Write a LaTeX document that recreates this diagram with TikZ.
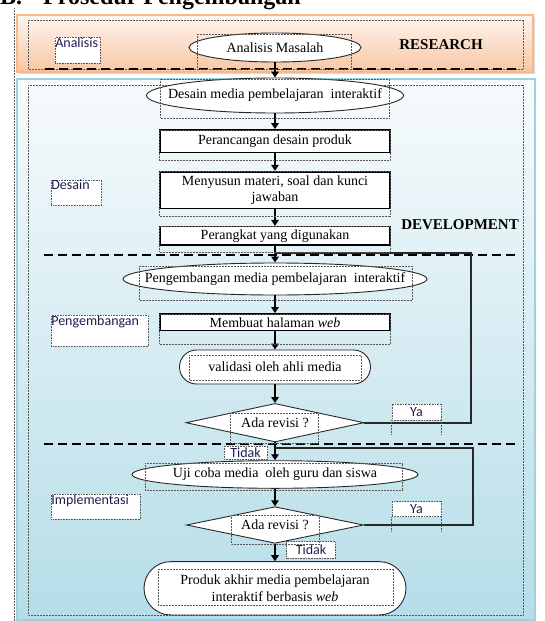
\documentclass[tikz,border=0pt]{standalone}
\usepackage{fontspec}
\setmainfont{Liberation Serif}
\newfontfamily\lblfont{Carlito}
\usetikzlibrary{shapes.geometric,shapes.misc,arrows.meta,shadows}
\definecolor{orBorder}{RGB}{248,184,138}
\definecolor{orTop}{RGB}{253,245,239}
\definecolor{orBot}{RGB}{248,198,162}
\definecolor{blBorder}{RGB}{160,208,222}
\definecolor{blTop}{RGB}{247,251,252}
\definecolor{blBot}{RGB}{181,221,232}
\definecolor{lblcol}{RGB}{30,30,80}
\definecolor{edge}{RGB}{40,40,40}
\newcommand\zw[1]{\makebox[0pt]{#1}}
\begin{document}
\begin{tikzpicture}[x=1pt,y=-1pt,
 every node/.style={font=\fontsize{14}{16.5}\selectfont},
 oval/.style={ellipse, draw=edge, line width=0.9pt, fill=white, inner sep=0pt},
 stadium/.style={rounded rectangle, draw=edge, line width=0.9pt, fill=white, inner sep=0pt, align=center},
 stepbox/.style={rectangle, draw=black, line width=1.6pt, fill=white, inner sep=0pt, minimum width=230.5pt, align=center},
 decide/.style={diamond, aspect=4.6, draw=edge, line width=0.9pt, fill=white, inner sep=0pt},
 frame/.style={draw=black!65, densely dotted, line width=0.5pt},
 lblbox/.style={draw=black!65, densely dotted, line width=0.6pt, fill=white, inner sep=0pt, font=\lblfont\fontsize{14}{16}\selectfont, text=lblcol},
 flow/.style={line width=2.2pt, -{Triangle[length=6pt,width=7.5pt]}},
 back/.style={line width=1.8pt, draw=edge},
 sep/.style={line width=1.8pt, dash pattern=on 9pt off 5pt},
 tag/.style={font=\fontsize{15}{17}\selectfont\bfseries}
]
\useasboundingbox (0,0) rectangle (545,621);

% title (partly cut off at the top)
\node[anchor=base west, inner sep=0pt, font=\fontsize{24}{28}\selectfont\bfseries] (title) at (0,5) {B.\hspace{21pt}Prosedur Pengembangan};

% left margin marker
\draw[frame] (14,8) -- (14,621);

% bands
\path[draw=orBorder, line width=1.2pt, top color=orTop, bottom color=orBot,
  drop shadow={shadow xshift=2pt, shadow yshift=-2pt, opacity=0.3}] (17,15) rectangle (533,72);
\path[draw=blBorder, line width=1.5pt, top color=blTop, bottom color=blBot] (17,79) rectangle (535,620);
\draw[frame] (28,20) rectangle (523,69);
\draw[frame] (28,85) rectangle (523,615);

% separators
\draw[sep] (45,69) -- (518,69);
\draw[sep] (43.5,255) -- (516,255);
\draw[sep] (43.5,444) -- (516,444);

% research
\node[oval, minimum width=172pt, minimum height=29pt] (am) at (275,47.5) {\zw{Analisis Masalah}};
\node[tag] (research) at (441,45) {RESEARCH};
\node[lblbox, anchor=north west] (lanalisis) at (55,37) {\parbox[c][26pt][t]{45pt}{Analisis}};

% desain
\node[oval, minimum width=257pt, minimum height=35pt] (e1) at (275,95.5) {\zw{Desain media pembelajaran\ \ interaktif}};
\node[stepbox, minimum height=22.7pt] (b1) at (275,141.3) {Perancangan desain produk};
\node[stepbox, minimum height=36.6pt] (b2) at (275,190) {Menyusun materi, soal dan kunci\\jawaban};
\node[stepbox, minimum height=18.3pt] (b3) at (275,235.8) {Perangkat yang digunakan};
\node[tag] (dev) at (460,225) {DEVELOPMENT};
\node[lblbox, anchor=north west] (ldesain) at (51,180) {\parbox[c][25pt][t]{50pt}{Desain}};

% pengembangan
\node[oval, minimum width=304pt, minimum height=32pt] (e2) at (275,279) {\zw{Pengembangan media pembelajaran\ \ interaktif}};
\node[stepbox, minimum height=16.7pt] (b4) at (275,322.3) {Membuat halaman \textit{web}};
\node[lblbox, anchor=north west] (lpeng) at (51,315) {\parbox[c][31pt][t]{97pt}{Pengembangan}};
\node[stadium, minimum width=191pt, minimum height=34pt] (s1) at (275,367) {validasi oleh ahli media};
\node[decide, minimum width=178pt, minimum height=38.5pt] (d1) at (275,422.7) {\zw{Ada revisi ?}};
\node[lblbox, minimum width=49pt, minimum height=16pt] (ya1) at (416.5,412) {Ya};

% implementasi
\node[lblbox, minimum width=43pt, minimum height=13.3pt] (tidak1) at (245.5,452.7) {Tidak};
\node[oval, minimum width=286pt, minimum height=27.6pt] (e3) at (275,474.5) {\zw{Uji coba media\ \ oleh guru dan siswa}};
\node[lblbox, anchor=north west] (limpl) at (51,494) {\parbox[c][25pt][t]{89pt}{Implementasi}};
\node[decide, minimum width=177pt, minimum height=36.6pt] (d2) at (275,525) {\zw{Ada revisi ?}};
\node[lblbox, minimum width=49pt, minimum height=15pt] (ya2) at (416.5,509.2) {Ya};
\node[lblbox, minimum width=48.6pt, minimum height=16.6pt] (tidak2) at (311,550) {Tidak};
\node[stadium, minimum width=262pt, minimum height=53.3pt] (s2) at (275,588.3) {Produk akhir media pembelajaran\\interaktif berbasis \textit{web}};

% flow arrows
\draw[flow] (am.south) -- (e1.north);
\draw[flow] (e1.south) -- (b1.north);
\draw[flow] (b1.south) -- (b2.north);
\draw[flow] (b2.south) -- (b3.north);
\draw[flow] (b3.south) -- (e2.north);
\draw[flow] (e2.south) -- (b4.north);
\draw[flow] (b4.south) -- (s1.north);
\draw[flow] (s1.south) -- (d1.north);
\draw[flow] (d1.south) -- (e3.north);
\draw[flow] (e3.south) -- (d2.north);
\draw[flow] (d2.south) -- (s2.north);

% revision loops
\coordinate (r1) at (471,252.7);
\coordinate (j1) at (275,252.7);
\draw[back] (d1.east) -| (r1) -- (j1);
\coordinate (r2) at (473,448.3);
\coordinate (j2) at (275,448.3);
\draw[back] (d2.east) -| (r2) -- (j2);

% text-box frames
\draw[frame] (197,34) rectangle (351,69);
\draw[frame] (160.6,79) rectangle (389,118);
\draw[frame] (159.5,130) rectangle (390,160.7);
\draw[frame] (159.5,171.7) rectangle (390,216.7);
\draw[frame] (159.5,226.7) rectangle (390,252);
\draw[frame] (139,266) rectangle (412,300);
\draw[frame] (159.5,314) rectangle (390,344);
\draw[frame] (189.4,355) rectangle (361,380);
\draw[frame] (230,413.3) rectangle (318,443.3);
\draw[frame] (145,463) rectangle (402.5,490);
\draw[frame] (231,515) rectangle (319,544);
\draw[frame] (158,569) rectangle (393.5,605);
\draw[frame] (ya1.south west) -- ++(0,15);
\draw[frame] (ya1.south east) -- ++(0,15);
\draw[frame] (ya2.south west) -- ++(0,14);
\draw[frame] (ya2.south east) -- ++(0,14);
\end{tikzpicture}
\end{document}
